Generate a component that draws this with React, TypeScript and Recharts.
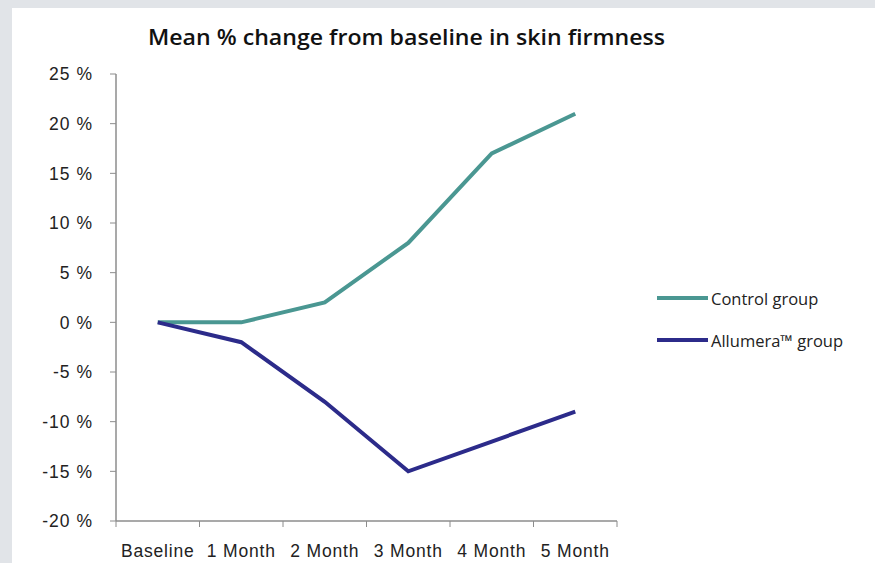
import React from 'react';
import { LineChart, Line, XAxis, YAxis } from 'recharts';

const months = ['Baseline', '1 Month', '2 Month', '3 Month', '4 Month', '5 Month'];
const control = [0, 0, 2, 8, 17, 21];
const allumera = [0, -2, -8, -15, -12, -9];
const yTicks = [-20, -15, -10, -5, 0, 5, 10, 15, 20, 25];

const data = months.map((m, i) => ({ month: m, control: control[i], allumera: allumera[i] }));

const W = 863;
const H = 555;
const PLOT_W = 501;
const BAND = PLOT_W / months.length;
const AXIS = '#8c8c8c';
const TEAL = '#4a9792';
const NAVY = '#2c2b8a';
const TICK_FONT = "'Liberation Sans', Arial, sans-serif";

function MonthTick(props: any) {
  const { x, y, payload, index } = props;
  return (
    <g>
      {index === 0 && <line x1={x - BAND / 2} x2={x - BAND / 2} y1={y} y2={y + 6} stroke={AXIS} />}
      <line x1={x + BAND / 2} x2={x + BAND / 2} y1={y} y2={y + 6} stroke={AXIS} />
      <text
        x={x}
        y={y + 30}
        textAnchor="middle"
        dominantBaseline="central"
        fill="#222"
        fontSize={17.5}
        letterSpacing={0.8}
        fontFamily={TICK_FONT}
      >
        {payload.value}
      </text>
    </g>
  );
}

function LegendBox() {
  const rows = [
    { name: 'Control group', color: TEAL },
    { name: 'Allumera\u2122 group', color: NAVY },
  ];
  return (
    <svg width={215} height={84} style={{ position: 'absolute', left: 645, top: 270 }}>
      {rows.map((r, i) => (
        <g key={r.name} transform={`translate(0, ${20 + i * 42})`}>
          <line x1={0} x2={51} y1={0} y2={0} stroke={r.color} strokeWidth={4} />
          <text
            x={54}
            y={0}
            dominantBaseline="central"
            fontSize={16.5}
            fill="#222"
            fontFamily="'Open Sans', sans-serif"
          >
            {r.name}
          </text>
        </g>
      ))}
    </svg>
  );
}

export default function App() {
  return (
    <div style={{ position: 'absolute', left: 0, top: 0, width: 875, height: 563, background: '#e1e4e8' }}>
      <div style={{ position: 'absolute', left: 12, top: 8, width: W, height: H, background: '#fff' }}>
        <svg width={W} height={60} style={{ position: 'absolute', left: 0, top: 0 }}>
          <text
            x={394.5}
            y={37}
            textAnchor="middle"
            fontSize={22}
            fontWeight={600}
            fill="#111"
            fontFamily="'Open Sans', sans-serif"
            textLength={517}
            lengthAdjust="spacingAndGlyphs"
          >
            Mean % change from baseline in skin firmness
          </text>
        </svg>
        <LegendBox />
        <LineChart width={W} height={H} data={data} margin={{ top: 66, right: 258, bottom: 0, left: 0 }}>
          <XAxis
            dataKey="month"
            height={42}
            interval={0}
            padding={{ left: BAND / 2, right: BAND / 2 }}
            tickLine={false}
            tickSize={0}
            tickMargin={0}
            axisLine={{ stroke: AXIS, strokeWidth: 1.5 }}
            tick={<MonthTick />}
          />
          <YAxis
            width={104}
            domain={[-20, 25]}
            ticks={yTicks}
            interval={0}
            tickSize={6}
            tickMargin={17}
            axisLine={{ stroke: AXIS, strokeWidth: 1.5 }}
            tickLine={{ stroke: AXIS }}
            tick={{ fill: '#222', fontSize: 17.5, letterSpacing: 1, fontFamily: TICK_FONT }}
            tickFormatter={(v: number) => `${v} %`}
          />
          <Line
            dataKey="control"
            name="Control group"
            stroke={TEAL}
            strokeWidth={4}
            dot={false}
            isAnimationActive={false}
          />
          <Line
            dataKey="allumera"
            name="Allumera™ group"
            stroke={NAVY}
            strokeWidth={4}
            dot={false}
            isAnimationActive={false}
          />
        </LineChart>
      </div>
    </div>
  );
}
